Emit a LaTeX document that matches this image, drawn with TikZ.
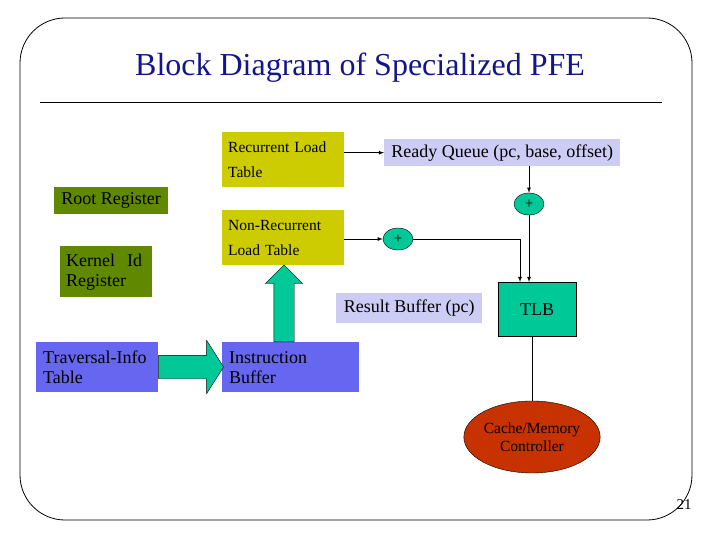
\documentclass[tikz,border=0pt]{standalone}
\usepackage{fontspec}
\setmainfont{Liberation Serif}
\usetikzlibrary{shapes.geometric,shapes.arrows}
\definecolor{tblyel}{RGB}{204,204,0}
\definecolor{reggrn}{RGB}{96,136,0}
\definecolor{queue}{RGB}{204,204,245}
\definecolor{tblblu}{RGB}{102,102,240}
\definecolor{teal}{RGB}{0,200,150}
\definecolor{memred}{RGB}{200,50,0}
\definecolor{ttl}{RGB}{20,20,140}
\begin{document}
\begin{tikzpicture}
[x=1pt,y=-1pt,
ar/.style={->,>=latex,thick},
box/.style={rectangle, inner sep=0pt, align=left, anchor=north west, font=\fontsize{18}{20}\selectfont},
ytab/.style={box, fill=tblyel, font=\fontsize{15.5}{16}\selectfont, text width=110pt, inner xsep=6pt},
greg/.style={box, fill=reggrn, inner xsep=6pt},
btab/.style={box, fill=tblblu, inner xsep=7pt},
lav/.style={box, fill=queue, align=center},
plusnode/.style={ellipse, draw, fill=teal, minimum width=30pt, minimum height=22pt, inner sep=0pt, font=\fontsize{15}{15}\selectfont},
fatarrow/.style={single arrow, draw, fill=teal, anchor=tail}
]

\useasboundingbox (0,0) rectangle (720,540);
\draw[thick,rounded corners=45pt] (20,18) rectangle (692,520);
\node[text=ttl, font=\fontsize{32}{34}\selectfont] (title) at (360,68) {Block Diagram of Specialized PFE};
\draw (40,102) -- (662,102);

% tables
\node[ytab, minimum width=120pt, minimum height=55pt] (rlt) at (222,132) {Recurrent Load\\[9pt]Table};
\node[ytab, minimum width=120pt, minimum height=55pt] (nrlt) at (222,210) {Non-Recurrent\\[9pt]Load Table};
\node[lav, minimum width=236pt, minimum height=27pt] (rq) at (384,139) {Ready Queue (pc, base, offset)};
\node[lav, minimum width=146pt, minimum height=30pt] (rb) at (336,293) {Result Buffer (pc)};
\node[greg, minimum width=114pt, minimum height=27pt] (root) at (54,187) {Root Register};
\node[greg, text width=80pt, minimum height=51pt] (kid) at (60,246) {Kernel~~Id\\Register};
\node[btab, text width=108pt, minimum height=50pt] (tit) at (36,342) {Traversal-Info\\Table};
\node[btab, text width=123pt, minimum height=50pt] (ib) at (222,342) {Instruction\\Buffer};
\node[box, fill=teal, draw, align=center, minimum width=78pt, minimum height=54pt] (tlb) at (498,282) {TLB};
\node[ellipse, draw, fill=memred, minimum width=104pt, minimum height=72pt, inner sep=0pt, align=center, font=\fontsize{15.5}{18}\selectfont] (mem) at (532,437) {Cache/Memory\\Controller};
\node[plusnode] (p1) at (529,204) {+};
\node[plusnode] (p2) at (398,239) {+};
\node[font=\fontsize{15}{15}\selectfont] (pg) at (684,505) {21};

% connectors
\draw[ar] (rlt.east |- rq.west) -- (rq.west);
\draw[ar] (nrlt.east |- p2.west) -- (p2.west);
\draw[ar] (rq.south -| p1.north) -- (p1.north);
\draw[ar] (p1.south) -- (p1.south |- tlb.north);
\draw[ar] (p2.east) -| ([xshift=-9pt]p1.south |- tlb.north);
\draw[thick] (tlb.south -| mem.north) -- (mem.north);

% fat arrows
\node[fatarrow, inner sep=11.5pt, single arrow head extend=15pt, single arrow tip angle=115, minimum height=65pt] (a1) at (tit.east |- 0,367) {};
\node[fatarrow, shape border rotate=90, inner sep=10pt, single arrow head extend=8.5pt, minimum height=77pt] (a2) at (284,342) {};
\end{tikzpicture}
\end{document}
